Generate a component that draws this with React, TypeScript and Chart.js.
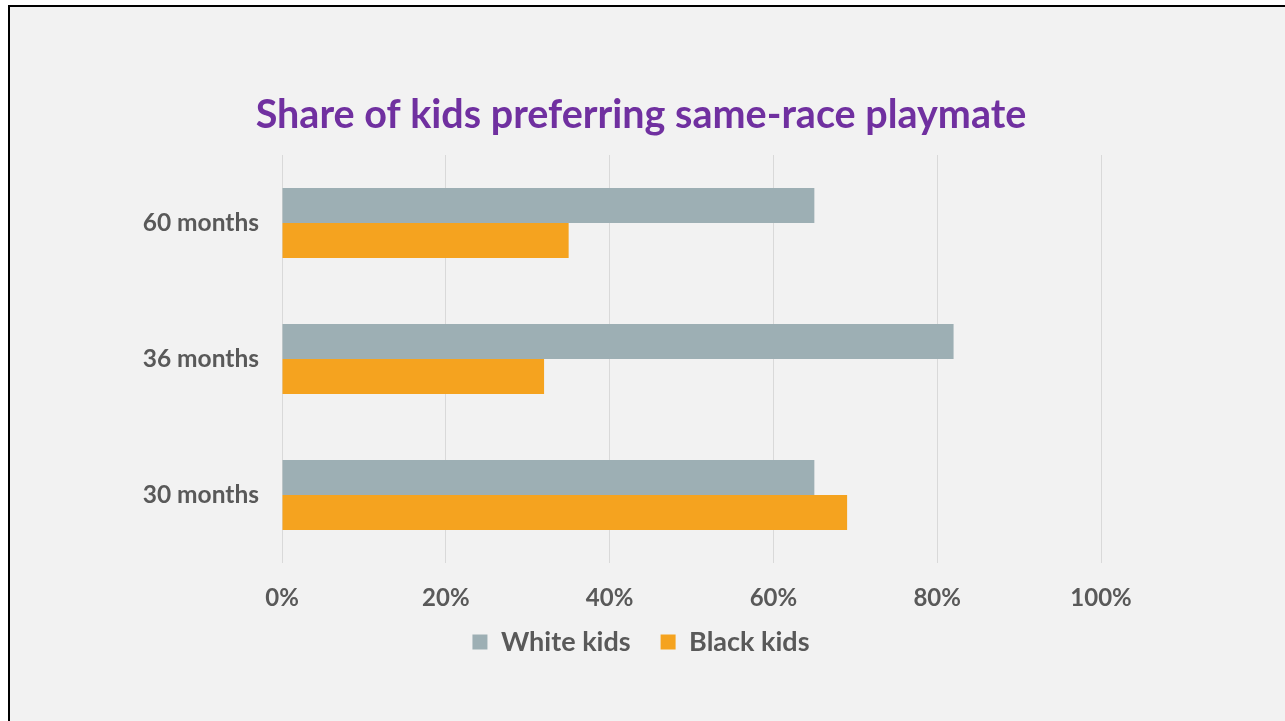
import React, { useEffect, useRef } from "react";
import { Chart, registerables } from "chart.js";

Chart.register(...registerables);

const categories = ["60 months", "36 months", "30 months"];
const whiteKids = [0.65, 0.82, 0.65];
const blackKids = [0.35, 0.32, 0.69];
const seriesNames = ["White kids", "Black kids"];
const titleText = "Share of kids preferring same-race playmate";

const FONT = "Lato, 'Open Sans', sans-serif";
const GRAY = "#595959";

// Pulls the bottom legend a little closer to the axis labels.
const legendNudge = {
  id: "legendNudge",
  afterLayout(chart: any) {
    const l = chart.legend;
    if (l) {
      l.top -= 13.5;
      l.bottom -= 13.5;
    }
  },
};

export default function App() {
  const ref = useRef<HTMLCanvasElement | null>(null);

  useEffect(() => {
    if (!ref.current) return;
    const chart = new Chart(ref.current, {
      type: "bar",
      data: {
        labels: categories,
        datasets: [
          {
            label: seriesNames[0],
            data: whiteKids,
            backgroundColor: "#9DAFB4",
            barPercentage: 1,
            categoryPercentage: 0.515,
          },
          {
            label: seriesNames[1],
            data: blackKids,
            backgroundColor: "#F5A31F",
            barPercentage: 1,
            categoryPercentage: 0.515,
          },
        ],
      },
      plugins: [legendNudge],
      options: {
        indexAxis: "y",
        animation: false,
        responsive: false,
        layout: { padding: { left: 0, right: 13, top: 0, bottom: 42 } },
        plugins: {
          title: {
            display: true,
            text: titleText,
            color: "#7030A0",
            font: { family: FONT, size: 39.5, weight: "bold", lineHeight: 1.2 },
            padding: { top: 85, bottom: 15.6 },
          },
          legend: {
            position: "bottom",
            labels: {
              color: GRAY,
              font: { family: FONT, size: 27, weight: "bold" },
              boxWidth: 15,
              boxHeight: 15,
              padding: 30,
            },
          },
          tooltip: { enabled: false },
        },
        scales: {
          x: {
            min: 0,
            max: 1,
            afterFit: (s: any) => {
              s.height = 49;
            },
            ticks: {
              stepSize: 0.2,
              color: GRAY,
              font: { family: FONT, size: 24, weight: "bold", lineHeight: 1.2 },
              padding: 21,
              callback: (v: any) => Math.round(Number(v) * 100) + "%",
            },
            grid: { color: "#D9D9D9", drawTicks: false, lineWidth: 1 },
            border: { display: false },
          },
          y: {
            afterFit: (s: any) => {
              s.width = 272;
            },
            ticks: {
              color: GRAY,
              font: { family: FONT, size: 24.5, weight: "bold" },
              padding: 23,
            },
            grid: { display: false, drawTicks: false },
            border: { display: false },
          },
          y2: {
            type: "linear",
            position: "right",
            display: true,
            afterFit: (s: any) => {
              s.width = 171;
            },
            ticks: { display: false },
            grid: { display: false, drawTicks: false },
            border: { display: false },
          },
        },
      },
    });
    return () => chart.destroy();
  }, []);

  return (
    <div
      style={{
        position: "absolute",
        left: 8,
        top: 5,
        width: 1275,
        height: 714,
        borderTop: "2px solid #000",
        borderLeft: "2px solid #000",
        background: "#F2F2F2",
        overflow: "hidden",
      }}
    >
      <canvas ref={ref} width={1275} height={714} style={{ display: "block" }} />
    </div>
  );
}
